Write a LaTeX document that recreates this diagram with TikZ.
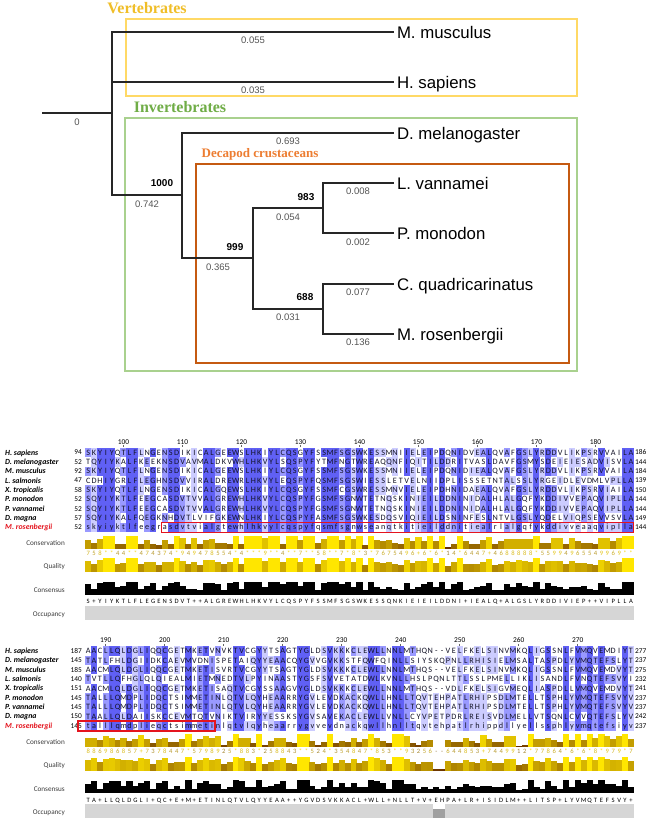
\documentclass[tikz,border=0pt]{standalone}
\usepackage{fontspec}
\setmainfont{Liberation Sans}
\newfontfamily\treeserif{Liberation Serif}
\newfontfamily\alnf{Carlito}

\definecolor{vertc}{RGB}{240,190,40}
\definecolor{vertbox}{RGB}{255,217,102}
\definecolor{invc}{RGB}{112,173,71}
\definecolor{invbox}{RGB}{169,209,142}
\definecolor{decc}{RGB}{237,125,49}
\definecolor{decbox}{RGB}{197,90,17}
\definecolor{pidA}{RGB}{96,96,245}
\definecolor{pidB}{RGB}{153,153,255}
\definecolor{pidC}{RGB}{204,204,255}
\definecolor{occc}{RGB}{214,214,214}
\definecolor{occd}{RGB}{160,160,160}
\definecolor{redbox}{RGB}{228,20,30}
\definecolor{brlen}{RGB}{85,85,85}
\definecolor{annc}{RGB}{60,60,60}
\definecolor{restxt}{RGB}{20,20,40}

\newcommand\alncell[2]{\makebox[5.9pt][c]{#2}}
\newcommand\alncellc[2]{\makebox[5.9pt][c]{\color[RGB]{#1}#2}}
\newcommand\alnbox[5]{\fill[#1] (#2,#3) rectangle (#4,#5);}
\newcommand\alnbar[5]{\definecolor{alnbarc}{RGB}{#1}\fill[alnbarc] (#2,#3) rectangle (#4,#5);}
\newcommand\alntext[5]{\node[#1] (#2) at (#3,#4) {#5};}

\ExplSyntaxOn
\int_new:N \l_aln_max_int
\int_new:N \l_aln_modal_int
\int_new:N \l_aln_occ_int
\int_new:N \l_aln_v_int
\int_new:N \l_aln_lvl_int
\fp_new:N \l_aln_x_fp
\fp_new:N \l_aln_q_fp
\tl_new:N \l_aln_cons_tl
\tl_new:N \l_aln_d_tl
\tl_new:N \l_aln_constext_tl
\tl_new:N \l_aln_digits_tl
\tl_const:Nn \c_aln_gap_tl {-}
\int_step_inline:nn {9}
  {
    \tl_new:c {l_aln_ch_#1_tl}
    \int_new:c {l_aln_cnt_#1_int}
    \tl_new:c {l_aln_row_#1_tl}
  }
\cs_new_protected:Npn \aln_seq:nnn #1#2#3
  {
    \str_const:cn {c_aln_d_#1_#2_str} {#3}
    \str_const:cx {c_aln_u_#1_#2_str} { \str_uppercase:n {#3} }
  }
\aln_seq:nnn {1}{1}{SKYIYQTLFLNGENSDIKICALGEEWSLHKIYLCQSGYFSSMFSGSWKESSMNIIELEIPDQNIDVEALQVAFGSLYRDDVLIKPSRVVAILA}
\aln_seq:nnn {1}{2}{TQYIYKALFKEEKNSDVAVMALDKVWHLHKVYLSQSPYFYTMFNGTWREAQQNFIQITILDDRITVASLDAVFGSMYSDEIEIESADVISVLA}
\aln_seq:nnn {1}{3}{SKYIYQTLFLNGENSDIKICALGEEWSLHKIYLCQSGYFSSMFSGSWKESSMNIIELEIPDQNIDIEALQVAFGSLYRDDVLIKPSRVVAILA}
\aln_seq:nnn {1}{4}{CDHIYGRLFLEGHNSDVVIRALDREWRLHKVYLEQSPYFQSMFSGSWIESSLETVELNIIDPLISSSETNTALSSLYRGEIDLEVDMLVPLLA}
\aln_seq:nnn {1}{5}{SKYIYQTLFLNGENSDIKICALGQEWSLHKIYLCQSGYFSSMFCGSWRESSMNVIELEIPDHNIDAEALQVAFGSLYRDDVLIKPSRVIAILA}
\aln_seq:nnn {1}{6}{SQYIYKTLFEEGCASDVTVVALGREWHLHKVYLCQSPYFGSMFSGNWTETNQSKINIEILDDNINIDALHLALGQFYKDDIVVEPAQVIPLLA}
\aln_seq:nnn {1}{7}{SQYIYKTLFEEGCASDVTVVALGREWHLHKVYLCQSPYFGSMFSGNWTETNQSKINIEILDDNINIDALHLALGQFYKDDIVVEPAQVIPLLA}
\aln_seq:nnn {1}{8}{SQYIYKALFQEGKNHDVTLVIFGKEWNLHKIYLCQSPYFASMFSGSWKESDQSVIQIEILDSNINFESLNTVLGSLYQDELVIQPSEVVSVLA}
\aln_seq:nnn {1}{9}{skyiyktlfeegrasdvtvialgtewhlhkvylcqspyfqsmfsgnwseanqtkitieilddnitiealrlalgqfykddivveaaqviplla}
\aln_seq:nnn {2}{1}{AACLLQLDGLIQQCGETMKETVNVKTVCGYYTSAGTYGLDSVKKKCLEWLLNNLMTHQN--VELFKELSINVMKQLIGSSNLFVMQVEMDIYT}
\aln_seq:nnn {2}{2}{TATLFHLDGIIDKCAEVMVDNISPETAIQYYEAACQYGVVGVKKSTFQWFQINLLSIYSKQPNLLRHISIELMSALTASPDLYVMQTEFSLYT}
\aln_seq:nnn {2}{3}{AACMLQLDGLIQQCGETMKETISVRTVCGYYTSAGTYGLDSVKKKCLEWLLNNLMTHQS--VELFKELSINVMKQLIGSSNLFVMQVEMDVYT}
\aln_seq:nnn {2}{4}{TVTLLQFHGLQLQIEALMIETMNEDTVLPYINAASTYGSFSVVETATDWLKVNLLHSLPQNLTTLSSLPMELLIKLISANDLFVNQTEFSVYI}
\aln_seq:nnn {2}{5}{AACMLQLDGLIQQCGETMKETISAQTVCGYSSAAGVYGLDSVKKKCLEWLLNNLMTHQS--VDLFKELSIGVMEQLIASPDLLVMQVEMDVYT}
\aln_seq:nnn {2}{6}{TALLLQMDPLIDQCTSIMMETINLQTVLQYHEAARRYGVLEVDKACKQWLLHNLLTQVTEHPATLRHIPSDLMTELLTSPHLYVMQTEFSVYV}
\aln_seq:nnn {2}{7}{TALLLQMDPLIDQCTSIMMETINLQTVLQYHEAARRYGVLEVDKACKQWLLHNLLTQVTEHPATLRHIPSDLMTELLTSPHLYVMQTEFSVYV}
\aln_seq:nnn {2}{8}{TAALLQLDAIISKCCEVMTQTVNIKTVIRYYESSKSYGVSAVEKACLEWLLVNLLCYVPETPDRLREISVDLMELLVTSQNLCVVQTEFSLYV}
\aln_seq:nnn {2}{9}{talllqmdplieqctsimmetinlqtvlqyheaarrygvvevdnackqwllhnlltqvtehpatlrhippdllyellssphlyvmqtefsiyv}
\str_const:cn {c_aln_cons_1_str} {758**44**474374*949478554*4***9**4**7**58**7*8*3*7675496*6*6*14*6447*4688888*55994965549969**}
\str_const:cn {c_aln_cons_2_str} {886986857*7378447*5798925*883*258843**524*354847*853**93256--644853*7449912*77864*6*6*8*979*7}

\cs_new_protected:Npn \aln_column:nnn #1#2#3
  {
    \fp_set:Nn \l_aln_x_fp { 85.05 + 5.9 * ( #2 - 1 ) }
    \int_step_inline:nn {9}
      { \tl_set:cx {l_aln_ch_##1_tl} { \str_item:cn {c_aln_u_#1_##1_str} {#2} } }
    \int_zero:N \l_aln_max_int
    \int_zero:N \l_aln_occ_int
    \int_step_inline:nn {9}
      {
        \int_zero:c {l_aln_cnt_##1_int}
        \tl_if_eq:cNF {l_aln_ch_##1_tl} \c_aln_gap_tl
          {
            \int_incr:N \l_aln_occ_int
            \int_step_inline:nn {9}
              {
                \tl_if_eq:ccT {l_aln_ch_##1_tl} {l_aln_ch_####1_tl}
                  { \int_incr:c {l_aln_cnt_##1_int} }
              }
          }
        \int_compare:nNnT { \int_use:c {l_aln_cnt_##1_int} } > \l_aln_max_int
          { \int_set:Nn \l_aln_max_int { \int_use:c {l_aln_cnt_##1_int} } }
      }
    \int_zero:N \l_aln_modal_int
    \tl_set:Nn \l_aln_cons_tl {-}
    \int_step_inline:nn {9}
      {
        \bool_lazy_and:nnT
          { \int_compare_p:nNn { \int_use:c {l_aln_cnt_##1_int} } = \l_aln_max_int }
          { \int_compare_p:nNn \l_aln_max_int > 0 }
          {
            \int_incr:N \l_aln_modal_int
            \tl_set_eq:Nc \l_aln_cons_tl {l_aln_ch_##1_tl}
          }
      }
    \int_compare:nNnT \l_aln_modal_int > \l_aln_max_int
      { \tl_set:Nn \l_aln_cons_tl {+} }
    \int_set:Nn \l_aln_lvl_int
      {
        \int_compare:nNnTF \l_aln_max_int > 7 {3}
          {
            \int_compare:nNnTF \l_aln_max_int > 5 {2}
              { \int_compare:nNnTF \l_aln_max_int > 3 {1} {0} }
          }
      }
    \int_step_inline:nn {9}
      {
        \bool_lazy_and:nnTF
          { \int_compare_p:nNn { \int_use:c {l_aln_cnt_##1_int} } = \l_aln_max_int }
          { \int_compare_p:nNn \l_aln_lvl_int > 0 }
          {
            \use:x
              {
                \exp_not:N \alnbox
                  { \int_case:nn \l_aln_lvl_int { {1}{pidC} {2}{pidB} {3}{pidA} } }
                  { \fp_eval:n { \l_aln_x_fp } }
                  { \fp_eval:n { #3 + 9.35 * ( ##1 - 1 ) - 4.7 } }
                  { \fp_eval:n { \l_aln_x_fp + 6.2 } }
                  { \fp_eval:n { #3 + 9.35 * ( ##1 - 1 ) + 4.72 } }
              }
            \tl_put_right:cx {l_aln_row_##1_tl}
              { \exp_not:N \alncell { \int_use:N \l_aln_lvl_int } { \str_item:cn {c_aln_d_#1_##1_str} {#2} } }
          }
          {
            \tl_put_right:cx {l_aln_row_##1_tl}
              { \exp_not:N \alncell {0} { \str_item:cn {c_aln_d_#1_##1_str} {#2} } }
          }
      }
    \tl_put_right:Nx \l_aln_constext_tl { \exp_not:N \alncell {0} { \l_aln_cons_tl } }
    \tl_set:Nx \l_aln_d_tl { \str_item:cn {c_aln_cons_#1_str} {#2} }
    \tl_if_empty:NT \l_aln_d_tl { \tl_set:Nn \l_aln_d_tl {0} }
    \exp_args:NV \str_case:nnF \l_aln_d_tl
      {
        {*} { \int_set:Nn \l_aln_v_int {11} }
        {+} { \int_set:Nn \l_aln_v_int {10} }
        {-} { \int_set:Nn \l_aln_v_int {0} }
      }
      { \int_set:Nn \l_aln_v_int { \l_aln_d_tl } }
    \int_compare:nNnT \l_aln_max_int = 9
      { \int_set:Nn \l_aln_v_int {11} \tl_set:Nn \l_aln_d_tl {*} }
    \bool_lazy_and:nnT
      { \int_compare_p:nNn \l_aln_v_int = {11} }
      { \int_compare_p:nNn \l_aln_max_int < 9 }
      { \int_set:Nn \l_aln_v_int {10} \tl_set:Nn \l_aln_d_tl {+} }
    \int_compare:nNnT \l_aln_v_int > 0
      {
        \use:x
          {
            \exp_not:N \alnbar
              { \fp_eval:n { round(90 + 165 * \l_aln_v_int / 11) } , \fp_eval:n { round(30 + 200 * \l_aln_v_int / 11) } , 0 }
              { \fp_eval:n { \l_aln_x_fp } } { \fp_eval:n { #3 + 96 } }
              { \fp_eval:n { \l_aln_x_fp + 6.2 } } { \fp_eval:n { #3 + 96 - 13 * \l_aln_v_int / 11 } }
          }
      }
    \tl_put_right:Nx \l_aln_digits_tl
      {
        \exp_not:N \alncellc
          { \fp_eval:n { round(150 + 95 * \l_aln_v_int / 11) } , \fp_eval:n { round(120 + 95 * \l_aln_v_int / 11) } , \fp_eval:n { round(60 - 40 * \l_aln_v_int / 11) } }
          { \exp_not:V \l_aln_d_tl }
      }
    \fp_set:Nn \l_aln_q_fp
      { ( 0.3 + 0.7 * ( 0.5 * \l_aln_v_int / 11 + 0.5 * ( \l_aln_max_int - 1 ) / 8 ) ) * ( \l_aln_occ_int / 9 ) ^ 3 }
    \fp_compare:nNnT \l_aln_q_fp > {0.02}
      {
        \use:x
          {
            \exp_not:N \alnbar
              { \fp_eval:n { round(90 + 165 * \l_aln_q_fp) } , \fp_eval:n { round(30 + 200 * \l_aln_q_fp) } , 0 }
              { \fp_eval:n { \l_aln_x_fp } } { \fp_eval:n { #3 + 119.5 } }
              { \fp_eval:n { \l_aln_x_fp + 6.2 } } { \fp_eval:n { #3 + 119.5 - 14 * \l_aln_q_fp } }
          }
      }
    \use:x
      {
        \exp_not:N \alnbox {black}
          { \fp_eval:n { \l_aln_x_fp } } { \fp_eval:n { #3 + 142 } }
          { \fp_eval:n { \l_aln_x_fp + 6.2 } } { \fp_eval:n { #3 + 142 - 13 * \l_aln_max_int / 9 } }
      }
    \int_compare:nNnT \l_aln_occ_int < 9
      {
        \use:x
          {
            \exp_not:N \alnbox {white}
              { \fp_eval:n { \l_aln_x_fp } } { \fp_eval:n { #3 + 152.5 } }
              { \fp_eval:n { \l_aln_x_fp + 5.9 } } { \fp_eval:n { #3 + 167 - 14 * \l_aln_occ_int / 9 } }
            \exp_not:N \alnbox {occd}
              { \fp_eval:n { \l_aln_x_fp } } { \fp_eval:n { #3 + 167 - 14 * \l_aln_occ_int / 9 } }
              { \fp_eval:n { \l_aln_x_fp + 5.9 } } { \fp_eval:n { #3 + 167 } }
          }
      }
  }

\cs_new_protected:Npn \aln_block:nn #1#2
  {
    \int_step_inline:nn {9} { \tl_clear:c {l_aln_row_##1_tl} }
    \tl_clear:N \l_aln_constext_tl
    \tl_clear:N \l_aln_digits_tl
    \use:x { \exp_not:N \alnbox {occc} {85.05} { \fp_eval:n {#2 + 153} } {633.75} { \fp_eval:n {#2 + 167} } }
    \int_step_inline:nn {93} { \aln_column:nnn {#1} {##1} {#2} }
    \int_step_inline:nn {9}
      {
        \use:x
          {
            \exp_not:N \alntext {alnrow} {s#1r##1} {85.05} { \fp_eval:n { #2 + 9.35 * ( ##1 - 1 ) } }
              { \exp_not:v {l_aln_row_##1_tl} }
          }
      }
    \use:x { \exp_not:N \alntext {alncons} {cons#1} {85.05} { \fp_eval:n {#2 + 149} } { \exp_not:V \l_aln_constext_tl } }
    \use:x { \exp_not:N \alntext {alndig} {cdig#1} {85.05} { \fp_eval:n {#2 + 100.8} } { \exp_not:V \l_aln_digits_tl } }
  }
\NewDocumentCommand \AlnBlock { m m } { \aln_block:nn {#1} {#2} }
\ExplSyntaxOff

\tikzset{
  br/.style={draw=black!85, line width=1.1pt},
  lf/.style={font=\fontsize{16.8}{17}\selectfont, anchor=west, inner sep=0pt, outer xsep=3pt, text height=12pt, text depth=0pt},
  bl/.style={font=\fontsize{9.5}{10}\selectfont, text=brlen, inner sep=0pt, text height=6.8pt, text depth=0pt},
  bs/.style={font=\bfseries\fontsize{10}{10}\selectfont, inner sep=0pt, text height=7.2pt, text depth=0pt},
  grp/.style={font=\treeserif\bfseries\fontsize{16}{16}\selectfont, inner sep=0pt, text height=10.8pt, text depth=0pt},
  grpsm/.style={font=\treeserif\bfseries\fontsize{13}{13}\selectfont, inner sep=0pt, text height=8.8pt, text depth=0pt},
  alnrow/.style={anchor=west, inner sep=0pt, font=\alnf\fontsize{8.2}{9}\selectfont, text=restxt, text height=5.3pt, text depth=0pt},
  alncons/.style={anchor=west, inner sep=0pt, font=\alnf\fontsize{6.6}{7}\selectfont, text height=4.2pt, text depth=0pt},
  alndig/.style={anchor=west, inner sep=0pt, font=\alnf\fontsize{6.6}{7}\selectfont, text height=4.2pt, text depth=0pt},
  alnnum/.style={inner sep=0pt, font=\alnf\fontsize{7.4}{8}\selectfont, text height=4.8pt, text depth=0pt},
  spname/.style={anchor=west, inner sep=0pt, font=\alnf\bfseries\itshape\fontsize{7.8}{8}\selectfont, text height=5pt, text depth=0pt},
  annlab/.style={anchor=east, inner sep=0pt, font=\alnf\fontsize{7.2}{8}\selectfont, text=annc, text height=4.6pt, text depth=0pt},
  rtick/.style={draw=black!60, line width=0.5pt}
}

\begin{document}
\begin{tikzpicture}[x=1pt,y=-1pt]
\useasboundingbox (0,0) rectangle (650,820);
\fill[white] (0,0) rectangle (650,820);

% ---------------- tree: group boxes ----------------
\draw[vertbox, line width=1.5pt] (126,19) rectangle (577,96);
\draw[invbox, line width=1.5pt] (125,118) rectangle (577,371);
\draw[decbox, line width=1.8pt] (196,164) rectangle (569,363);
\node[grp, text=vertc] (gvert) at (147,8) {Vertebrates};
\node[grp, text=invc] (ginv) at (180,107) {Invertebrates};
\node[grpsm, text=decc] (gdec) at (260,153) {Decapod crustaceans};

% ---------------- tree: nodes ----------------
\coordinate (root) at (42,113);
\coordinate (nV) at (112,113);
\coordinate (nI) at (182,195);
\coordinate (nD) at (253,258);
\coordinate (nP) at (323,208);
\coordinate (nC) at (323,309);
\node[lf] (mus) at (394,32) {M. musculus};
\node[lf] (hsa) at (394,82) {H. sapiens};
\node[lf] (dme) at (394,133) {D. melanogaster};
\node[lf] (lva) at (394,183) {L. vannamei};
\node[lf] (pmo) at (394,233) {P. monodon};
\node[lf] (cqu) at (394,284) {C. quadricarinatus};
\node[lf] (mro) at (394,334) {M. rosenbergii};

\draw[br] (root) -- (nV);
\draw[br] (nV) |- (mus.west);
\draw[br] (nV) |- (hsa.west);
\draw[br] (nV) |- (nI);
\draw[br] (nI) |- (dme.west);
\draw[br] (nI) |- (nD);
\draw[br] (nD) |- (nP);
\draw[br] (nD) |- (nC);
\draw[br] (nP) |- (lva.west);
\draw[br] (nP) |- (pmo.west);
\draw[br] (nC) |- (cqu.west);
\draw[br] (nC) |- (mro.west);

\node[bl] (l0) at (77,122) {0};
\node[bl] (l1) at (253,40) {0.055};
\node[bl] (l2) at (253,90) {0.035};
\node[bl] (l3) at (288,141) {0.693};
\node[bl] (l4) at (147,204) {0.742};
\node[bs] (b1) at (162,183) {1000};
\node[bs] (b2) at (235,247) {999};
\node[bl] (l5) at (218,267) {0.365};
\node[bs] (b3) at (306,197) {983};
\node[bl] (l6) at (288,217) {0.054};
\node[bl] (l7) at (358,191) {0.008};
\node[bl] (l8) at (358,242) {0.002};
\node[bs] (b4) at (305,297) {688};
\node[bl] (l9) at (288,317) {0.031};
\node[bl] (l10) at (358,292) {0.077};
\node[bl] (l11) at (358,342) {0.136};

% ---------------- alignment blocks ----------------
\AlnBlock{1}{452.5}
\AlnBlock{2}{651}

% rulers
\foreach \p in {100,110,...,180} {
  \pgfmathsetmacro\xx{88+(\p-94)*5.9}
  \node[alnnum] (ra\p) at (\xx,442) {\p};
  \draw[rtick] ([yshift=-0.8pt]ra\p.south) -- ++(0,1.8);
}
\foreach \p in {190,200,...,270} {
  \pgfmathsetmacro\xx{88+(\p-187)*5.9}
  \node[alnnum] (rb\p) at (\xx,640.5) {\p};
  \draw[rtick] ([yshift=-0.8pt]rb\p.south) -- ++(0,1.8);
}

% sequence names and start / end numbers
\foreach \i/\nm in {1/H. sapiens,2/D. melanogaster,3/M. musculus,4/L. salmonis,5/X. tropicalis,6/P. monodon,7/P. vannamei,8/D. magna} {
  \node[spname] (na\i) at (5,{452.5+9.35*(\i-1)}) {\nm};
  \node[spname] (nb\i) at (5,{651+9.35*(\i-1)}) {\nm};
}
\node[spname, text=redbox] (na9) at (5,{452.5+9.35*8}) {M. rosenbergii};
\node[spname, text=redbox] (nb9) at (5,{651+9.35*8}) {M. rosenbergii};

\foreach \i/\a/\b in {1/94/186,2/52/144,3/92/184,4/47/139,5/58/150,6/52/144,7/52/144,8/57/149,9/52/144} {
  \node[alnnum, anchor=east] (sa\i) at (82,{452.5+9.35*(\i-1)}) {\a};
  \node[alnnum, anchor=west] (ea\i) at (635,{452.5+9.35*(\i-1)}) {\b};
}
\foreach \i/\a/\b in {1/187/277,2/145/237,3/185/275,4/140/232,5/151/241,6/145/237,7/145/237,8/150/242,9/145/237} {
  \node[alnnum, anchor=east] (sb\i) at (82,{651+9.35*(\i-1)}) {\a};
  \node[alnnum, anchor=west] (eb\i) at (635,{651+9.35*(\i-1)}) {\b};
}

% red highlight boxes
\draw[redbox, line width=1.4pt] (161.75,522.3) rectangle (633.75,532.3);
\draw[redbox, line width=1.4pt] (78,720.8) rectangle (214.85,730.8);

% annotation labels
\node[annlab] (ca1) at (65,543.5) {Conservation};
\node[annlab] (qa1) at (65,566.5) {Quality};
\node[annlab] (na1) at (65,590.5) {Consensus};
\node[annlab] (oa1) at (65,614) {Occupancy};
\node[annlab] (ca2) at (65,742) {Conservation};
\node[annlab] (qa2) at (65,765) {Quality};
\node[annlab] (na2) at (65,789) {Consensus};
\node[annlab] (oa2) at (65,812.5) {Occupancy};
\end{tikzpicture}
\end{document}
